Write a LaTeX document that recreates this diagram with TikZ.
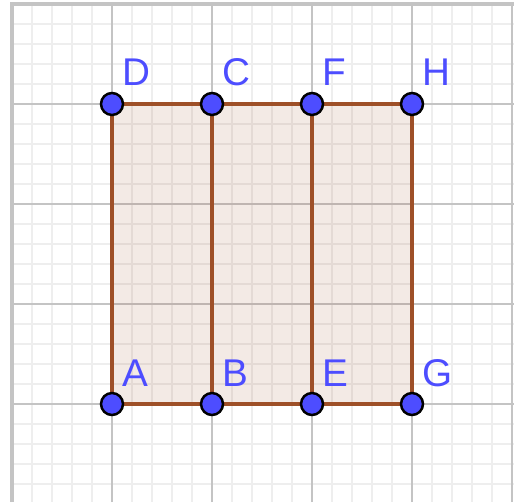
\documentclass[tikz,border=0pt]{standalone}
\usepackage{fontspec}
\setmainfont{Liberation Sans}
\usepackage{tikz}
\usepackage{xcolor}
\usetikzlibrary{positioning}
\definecolor{ptblue}{RGB}{77,77,255}
\definecolor{edgebrown}{RGB}{158,80,40}
\definecolor{minorgrid}{RGB}{238,238,238}
\definecolor{majorgrid}{RGB}{196,196,196}
\pgfdeclarelayer{gridlayer}
\pgfdeclarelayer{background}
\pgfsetlayers{gridlayer,background,main}

\begin{document}
\begin{tikzpicture}[
    pt/.style={circle, fill=ptblue, draw=black, line width=0.7pt, minimum size=0.22cm, inner sep=0pt},
    ptlabel/.style={anchor=base west, inner sep=0pt, text=ptblue, font=\fontsize{11}{13}\selectfont},
    edge/.style={draw=edgebrown, line width=1.25pt}
]
    \useasboundingbox (-0.12,-0.98) rectangle (5.02,4.04);

    % Points
    \node[pt] (A) at (1,0) {};
    \node[pt] (B) at (2,0) {};
    \node[pt] (E) at (3,0) {};
    \node[pt] (G) at (4,0) {};
    \node[pt] (D) at (1,3) {};
    \node[pt] (C) at (2,3) {};
    \node[pt] (F) at (3,3) {};
    \node[pt] (H) at (4,3) {};

    % Labels
    \foreach \p in {A,B,E,G,D,C,F,H}
        \node[ptlabel] (l\p) at ([xshift=0.1cm, yshift=0.18cm]\p.center) {\p};

    % Grid
    \begin{pgfonlayer}{gridlayer}
    \draw[minorgrid, line width=0.45pt] (0,-0.98) grid[step=0.2] (5.02,4);
    \draw[majorgrid, line width=0.5pt] (0,-0.98) grid[step=1] (5.02,4);
    \draw[majorgrid, line width=0.9pt] (0,-0.98) -- (0,4) -- (5.02,4);
    \end{pgfonlayer}

    % Rectangles
    \begin{pgfonlayer}{background}
    \fill[edgebrown, opacity=0.12] (A.center) -- (G.center) -- (H.center) -- (D.center) -- cycle;
    \draw[edge] (A.center) -- (B.center) -- (E.center) -- (G.center) -- (H.center) -- (F.center) -- (C.center) -- (D.center) -- cycle;
    \draw[edge] (B.center) -- (C.center);
    \draw[edge] (E.center) -- (F.center);
    \end{pgfonlayer}
\end{tikzpicture}
\end{document}
